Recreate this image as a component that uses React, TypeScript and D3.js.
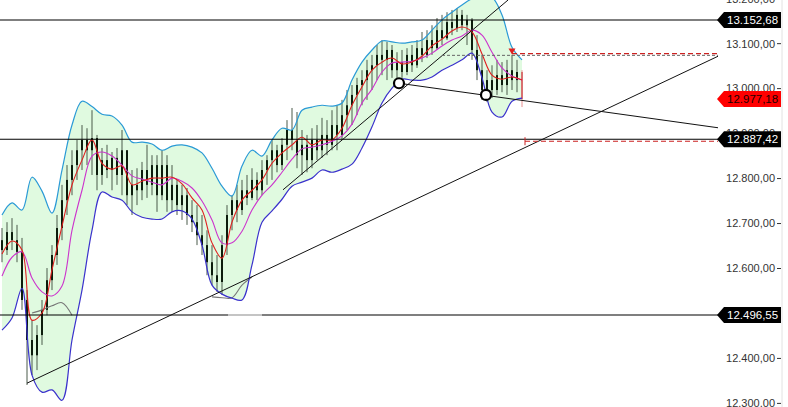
import * as d3 from 'd3';
import { useEffect } from 'react';

// band / moving average samples, one every 2 bars
const upperBand = [12719, 12746, 12730, 12803, 12772, 12723, 12819, 12919, 12972, 12960, 12943, 12939, 12919, 12881, 12881, 12877, 12863, 12872, 12875, 12870, 12857, 12823, 12783, 12761, 12828, 12863, 12850, 12886, 12912, 12908, 12952, 12959, 12963, 12961, 12968, 13019, 13059, 13086, 13106, 13104, 13101, 13104, 13108, 13130, 13153, 13170, 13186, 13200, 13205, 13203, 13164, 13092, 13064];
const lowerBand = [12463, 12490, 12556, 12363, 12325, 12330, 12307, 12441, 12552, 12685, 12770, 12759, 12752, 12726, 12714, 12710, 12710, 12726, 12728, 12710, 12652, 12563, 12543, 12534, 12530, 12608, 12703, 12728, 12754, 12783, 12792, 12801, 12819, 12814, 12821, 12832, 12868, 12915, 12968, 13001, 13021, 13019, 13019, 13026, 13041, 13052, 13064, 13079, 13024, 12948, 12937, 12972, 12979];
const fastMa = [12632, 12661, 12641, 12485, 12501, 12597, 12694, 12786, 12841, 12886, 12834, 12821, 12828, 12786, 12794, 12801, 12801, 12803, 12788, 12757, 12730, 12657, 12623, 12703, 12752, 12774, 12797, 12834, 12857, 12875, 12892, 12875, 12886, 12886, 12912, 12963, 13004, 13041, 13059, 13068, 13055, 13059, 13072, 13095, 13110, 13128, 13137, 13126, 13077, 13030, 13021, 13026, 13019];
const slowMa = [12583, 12625, 12637, 12579, 12548, 12539, 12561, 12685, 12774, 12850, 12859, 12850, 12830, 12806, 12799, 12792, 12786, 12801, 12794, 12779, 12750, 12708, 12657, 12657, 12683, 12730, 12763, 12786, 12814, 12843, 12866, 12870, 12875, 12883, 12895, 12921, 12968, 12999, 13037, 13057, 13059, 13061, 13068, 13079, 13095, 13108, 13117, 13130, 13119, 13081, 13046, 13028, 13019];
const longMa: (number | null)[] = [null, null, null, 12501, 12508, 12517, 12524, 12496, null, null, null, null, null, null, null, null, null, null, null, null, null, 12537, 12535, 12535, 12563, 12581, null, null, null, null, null, null, null, null, null, null, null, null, null, null, null, null, null, null, null, null, null, null, null, null, null, null, null];

// candles
const firstOpen = 12663;
const closes = [
  12641, 12681, 12663, 12637, 12530, 12441, 12407, 12452, 12508, 12574,
  12630, 12690, 12752, 12797, 12830, 12863, 12886, 12863, 12890, 12808,
  12841, 12819, 12846, 12808, 12863, 12763, 12786, 12774, 12819, 12786,
  12830, 12763, 12830, 12752, 12786, 12741, 12763, 12719, 12703, 12674,
  12652, 12614, 12585, 12570, 12652, 12719, 12752, 12730, 12774, 12757,
  12797, 12774, 12819, 12841, 12863, 12830, 12875, 12908, 12886, 12852,
  12875, 12841, 12886, 12863, 12897, 12875, 12919, 12897, 12941, 12963,
  12986, 13008, 13019, 13041, 13052, 13075, 13064, 13086, 13041, 13059,
  13037, 13075, 13052, 13090, 13075, 13108, 13090, 13130, 13112, 13148,
  13135, 13164, 13141, 13153, 13086, 13041, 12997, 13019, 12997, 13030,
  13008, 13041, 13019, 13037, 12977,
];
const highs = [
  12690, 12703, 12712, 12697, 12668, 12552, 12485, 12474, 12530, 12601,
  12652, 12719, 12786, 12830, 12863, 12886, 12919, 12912, 12952, 12897,
  12868, 12875, 12859, 12868, 12908, 12863, 12819, 12823, 12837, 12875,
  12852, 12852, 12863, 12852, 12830, 12797, 12786, 12779, 12752, 12741,
  12719, 12685, 12652, 12630, 12674, 12741, 12763, 12786, 12797, 12808,
  12823, 12814, 12841, 12852, 12886, 12875, 12890, 12930, 12957, 12948,
  12908, 12897, 12912, 12919, 12935, 12930, 12952, 12963, 12975, 12997,
  13008, 13024, 13041, 13064, 13075, 13097, 13108, 13104, 13097, 13081,
  13086, 13090, 13097, 13108, 13126, 13130, 13141, 13157, 13164, 13170,
  13175, 13179, 13175, 13164, 13157, 13119, 13075, 13041, 13052, 13064,
  13059, 13064, 13075, 13064, 13041,
];
const lows = [
  12614, 12630, 12641, 12614, 12508, 12341, 12363, 12374, 12430, 12496,
  12552, 12608, 12663, 12719, 12763, 12797, 12819, 12830, 12808, 12774,
  12786, 12801, 12774, 12786, 12763, 12741, 12719, 12741, 12752, 12757,
  12763, 12726, 12752, 12726, 12726, 12719, 12708, 12697, 12681, 12652,
  12630, 12585, 12563, 12548, 12541, 12630, 12685, 12703, 12719, 12741,
  12752, 12752, 12763, 12786, 12797, 12814, 12819, 12841, 12863, 12823,
  12808, 12814, 12823, 12841, 12846, 12852, 12863, 12863, 12886, 12908,
  12919, 12941, 12963, 12975, 12997, 13019, 13030, 13019, 13024, 13015,
  13024, 13030, 13037, 13046, 13059, 13068, 13075, 13086, 13097, 13108,
  13119, 13126, 13130, 13097, 13064, 13019, 12975, 12970, 12979, 12986,
  12992, 12986, 12997, 12992, 12959,
];

const levels = [13152.68, 12887.42, 12496.55];
const lastPrice = 12977.18;
const yTicks = [12300, 12400, 12500, 12600, 12700, 12800, 12900, 13000, 13100, 13200];

// drawing tools, [bar index, price]
const trendLines: [number, number][][] = [
  [[5, 12345], [143.2, 13072]],
  [[56.2, 12775], [101.2, 13197]],
  [[79.4, 13012], [143.2, 12913]],
];
const pivots: [number, number][] = [[79.4, 13012], [96.8, 12986]];
const dashedGray: [number, number] = [88, 13074];
const dashedRedTop: [number, number] = [102, 13078];
const dashedRedLow: [number, number] = [104.6, 12883];

const W = 788;
const H = 407;
const plotRight = 718;
const axisX = 782;

const de = d3.formatLocale({ decimal: ',', thousands: '.', grouping: [3], currency: ['', ''] });
const fmt = de.format(',.2f');

const x = d3.scaleLinear().domain([0, closes.length - 1]).range([2, 522]);
const y = d3.scaleLinear().domain([12300, 13200]).range([403.4, -1.3]);
const bx = (j: number) => x(j * 2);

const bandArea = d3
  .area<number>()
  .x((_d, j) => bx(j))
  .y0((_d, j) => y(lowerBand[j]))
  .y1((d) => y(d))
  .curve(d3.curveCatmullRom);

const seriesLine = d3
  .line<number | null>()
  .defined((d) => d !== null)
  .x((_d, j) => bx(j))
  .y((d) => y(d as number))
  .curve(d3.curveCatmullRom);

const tag = (yc: number) =>
  `M${plotRight - 1},${yc} L${plotRight + 6},${yc - 8} L${axisX - 1},${yc - 8} L${axisX - 1},${yc + 8} L${plotRight + 6},${yc + 8} Z`;

export default function App() {
  useEffect(() => {
    document.body.style.margin = '0';
  }, []);

  const opens = closes.map((_c, i) => (i === 0 ? firstOpen : closes[i - 1]));
  const font = '"Liberation Sans", Arial, sans-serif';

  return (
    <svg width={W} height={H} style={{ position: 'absolute', left: 0, top: 0, background: '#fff' }} fontFamily={font}>
      <path d={bandArea(upperBand) ?? ''} fill="#e0fae0" />

      {closes.map((c, i) => {
        const o = opens[i];
        const last = i === closes.length - 1;
        const top = y(Math.max(o, c));
        const h = Math.max(1, Math.abs(y(o) - y(c)));
        return (
          <g key={i}>
            <line x1={x(i)} x2={x(i)} y1={y(highs[i])} y2={y(lows[i])} stroke={last ? '#e89090' : '#4a5a4a'} strokeWidth={1} />
            <rect x={x(i) - 1} y={top} width={2} height={h} fill={last ? '#d87070' : '#0c1c0c'} />
          </g>
        );
      })}

      <path d={seriesLine(longMa) ?? ''} fill="none" stroke="#777" strokeWidth={1.1} />
      <path d={seriesLine(slowMa) ?? ''} fill="none" stroke="#cc33cc" strokeWidth={1.1} />
      <path d={seriesLine(fastMa) ?? ''} fill="none" stroke="#e02020" strokeWidth={1.1} />
      <path d={seriesLine(upperBand) ?? ''} fill="none" stroke="#2a9ad6" strokeWidth={1.2} />
      <path d={seriesLine(lowerBand) ?? ''} fill="none" stroke="#3a32cc" strokeWidth={1.2} />

      {levels.map((lv) => (
        <line key={lv} x1={0} x2={plotRight} y1={y(lv)} y2={y(lv)} stroke="#000" strokeWidth={1.1} />
      ))}
      <line x1={228} x2={262} y1={y(levels[2])} y2={y(levels[2])} stroke="#c4c4c4" strokeWidth={2} />

      {trendLines.map((t, k) => (
        <line key={k} x1={x(t[0][0])} y1={y(t[0][1])} x2={x(t[1][0])} y2={y(t[1][1])} stroke="#111" strokeWidth={1} />
      ))}

      <line x1={x(dashedGray[0])} x2={plotRight} y1={y(dashedGray[1])} y2={y(dashedGray[1])} stroke="#666" strokeWidth={1} strokeDasharray="3,2" />
      <line x1={x(dashedRedTop[0])} x2={plotRight} y1={y(dashedRedTop[1])} y2={y(dashedRedTop[1])} stroke="#cc2222" strokeWidth={1.2} strokeDasharray="5,3" />
      <path
        d={`M${x(dashedRedTop[0]) - 3.5},${y(dashedRedTop[1]) - 5} L${x(dashedRedTop[0]) + 3.5},${y(dashedRedTop[1]) - 5} L${x(dashedRedTop[0])},${y(dashedRedTop[1]) + 1} Z`}
        fill="#e02020"
      />
      <line x1={x(dashedRedLow[0])} x2={plotRight} y1={y(dashedRedLow[1])} y2={y(dashedRedLow[1])} stroke="#cc2222" strokeWidth={1.2} strokeDasharray="5,3" />
      <line x1={x(dashedRedLow[0])} x2={x(dashedRedLow[0])} y1={y(dashedRedLow[1]) - 4} y2={y(dashedRedLow[1]) + 4} stroke="#cc2222" strokeWidth={1} />

      {pivots.map((p, k) => (
        <circle key={k} cx={x(p[0])} cy={y(p[1])} r={5} fill="#fff" stroke="#000" strokeWidth={2.2} />
      ))}

      {/* right price axis */}
      <line x1={axisX} x2={axisX} y1={0} y2={H} stroke="#e2e2e2" strokeWidth={1} />
      {yTicks.map((t) => (
        <g key={t}>
          <line x1={axisX - 5} x2={axisX - 1} y1={y(t)} y2={y(t)} stroke="#333" strokeWidth={1} />
          <text x={axisX - 7} y={y(t)} dy="0.35em" textAnchor="end" fontSize={11} fill="#333">
            {fmt(t)}
          </text>
        </g>
      ))}
      {levels.map((lv) => (
        <g key={lv}>
          <path d={tag(y(lv))} fill="#000" />
          <text x={plotRight + 9} y={y(lv)} dy="0.36em" fontSize={11.5} fill="#fff">
            {fmt(lv)}
          </text>
        </g>
      ))}
      <path d={tag(y(lastPrice))} fill="#ff0000" />
      <text x={plotRight + 9} y={y(lastPrice)} dy="0.36em" fontSize={11.5} fill="#1a0000">
        {fmt(lastPrice)}
      </text>
    </svg>
  );
}
